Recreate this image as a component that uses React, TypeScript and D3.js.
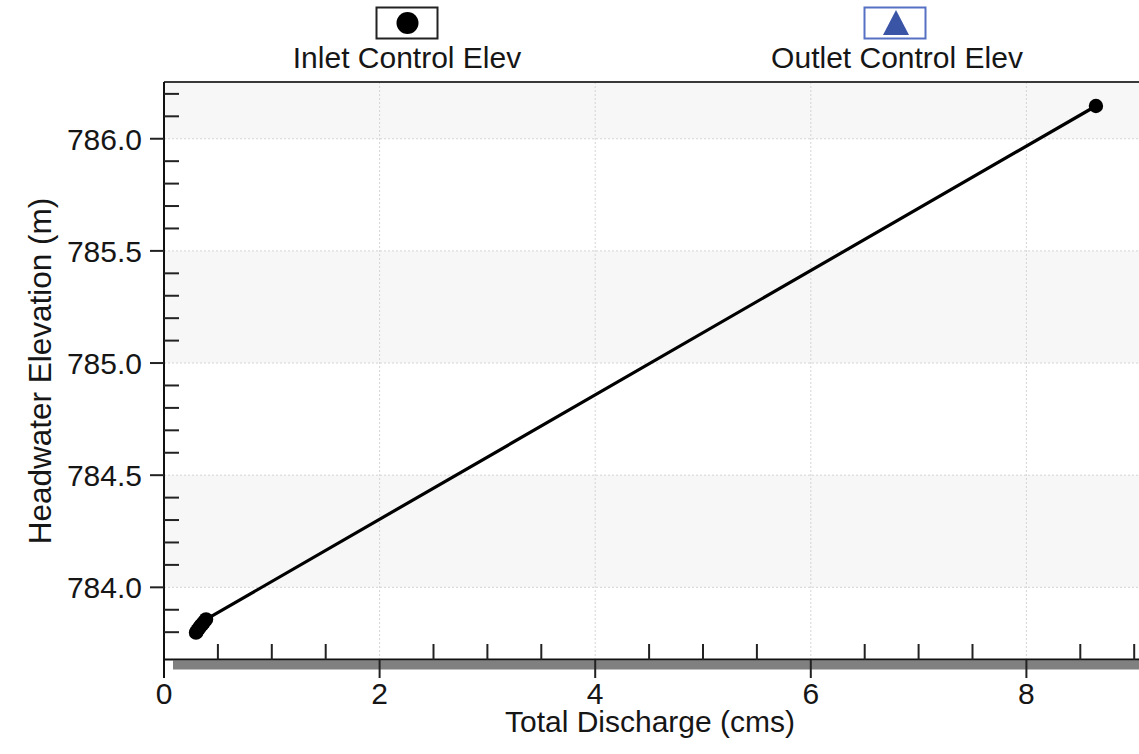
import React from "react";
import * as d3 from "d3";

// Culvert headwater rating data
const discharge = [0.297, 0.31, 0.325, 0.34, 0.355, 0.37, 0.39, 8.645];
const headwaterElev = [783.798, 783.808, 783.818, 783.828, 783.836, 783.845, 783.857, 786.146];

const xMajorTicks = [0, 2, 4, 6, 8];
const yMajorTicks = [784.0, 784.5, 785.0, 785.5, 786.0];

const legendLabels = ["Inlet Control Elev", "Outlet Control Elev"];

const W = 1139;
const H = 754;
const left = 164;
const top = 82;
const bottom = 660;
const right = 1142;
const FONT = "'Liberation Sans', Arial, sans-serif";
const TEXT = "#161616";

export default function App() {
  const x = d3.scaleLinear().domain([0, 9]).range([left, left + 9 * 107.8]);
  const y = d3.scaleLinear().domain([783.676, 786.253]).range([bottom, top]);

  const xMinor = d3.range(0.5, 9.01, 0.5).filter((v) => Math.abs(v / 2 - Math.round(v / 2)) > 1e-6);
  const yMinor = d3
    .range(783.8, 786.25, 0.1)
    .map((v) => +v.toFixed(1))
    .filter((v) => Math.abs(v * 2 - Math.round(v * 2)) > 1e-6);

  // background bands between major elevations
  const bandEdges = [784.0, 784.5, 785.0, 785.5, 786.0, 786.253];
  const bands = [
    [bandEdges[0], bandEdges[1]],
    [bandEdges[2], bandEdges[3]],
    [bandEdges[4], bandEdges[5]],
  ];

  const pts = discharge.map((q, i) => [q, headwaterElev[i]] as [number, number]);
  const line = d3
    .line<[number, number]>()
    .x((d) => x(d[0]))
    .y((d) => y(d[1]));

  return (
    <div style={{ position: "fixed", left: 0, top: 0 }}>
      <svg width={W} height={H} style={{ display: "block", background: "#fff" }}>
        {/* plot background */}
        <rect x={left} y={top} width={right - left} height={bottom - top} fill="#ffffff" />
        {bands.map(([a, b], i) => (
          <rect key={i} x={left} y={y(b)} width={right - left} height={y(a) - y(b)} fill="#f7f7f7" />
        ))}

        {/* dotted grid */}
        {xMajorTicks.slice(1).map((t) => (
          <line key={"gx" + t} x1={x(t)} x2={x(t)} y1={top} y2={bottom} stroke="#d4d4d4" strokeWidth={1} strokeDasharray="2,2" />
        ))}
        {yMajorTicks.map((t) => (
          <line key={"gy" + t} x1={left} x2={right} y1={y(t)} y2={y(t)} stroke="#d4d4d4" strokeWidth={1} strokeDasharray="2,2" />
        ))}

        {/* frame */}
        <line x1={left} x2={right} y1={top} y2={top} stroke="#3a3a3a" strokeWidth={2} />
        <rect x={173} y={660.5} width={right - 173} height={9} fill="#808080" />
        <line x1={left} x2={right} y1={bottom - 0.5} y2={bottom - 0.5} stroke="#111" strokeWidth={2} />
        <line x1={left} x2={left} y1={top} y2={678} stroke="#111" strokeWidth={2} />

        {/* x ticks */}
        {xMajorTicks.slice(1).map((t) => (
          <line key={"xt" + t} x1={x(t)} x2={x(t)} y1={bottom} y2={678} stroke="#222" strokeWidth={2} />
        ))}
        {xMinor.map((t) => (
          <line key={"xm" + t} x1={x(t)} x2={x(t)} y1={bottom} y2={bottom - 16} stroke="#222" strokeWidth={2} />
        ))}
        {xMajorTicks.map((t) => (
          <text key={"xl" + t} x={x(t)} y={704} textAnchor="middle" fontFamily={FONT} fontSize={30} fill={TEXT}>
            {t}
          </text>
        ))}

        {/* y ticks */}
        {yMajorTicks.map((t) => (
          <line key={"yt" + t} x1={150} x2={left} y1={y(t)} y2={y(t)} stroke="#222" strokeWidth={2} />
        ))}
        {yMinor.map((t) => (
          <line key={"ym" + t} x1={left} x2={left + 15} y1={y(t)} y2={y(t)} stroke="#222" strokeWidth={2} />
        ))}
        {yMajorTicks.map((t) => (
          <text key={"yl" + t} x={142} y={y(t)} dy="0.36em" textAnchor="end" fontFamily={FONT} fontSize={30} fill={TEXT}>
            {d3.format(".1f")(t)}
          </text>
        ))}

        {/* axis titles */}
        <text x={650} y={732} textAnchor="middle" fontFamily={FONT} fontSize={30} fill={TEXT}>
          Total Discharge (cms)
        </text>
        <text
          transform={`translate(51,${371}) rotate(-90)`}
          textAnchor="middle"
          fontFamily={FONT}
          fontSize={31.5}
          fill={TEXT}
        >
          Headwater Elevation (m)
        </text>

        {/* series */}
        <path d={line(pts) || ""} fill="none" stroke="#000" strokeWidth={3.2} strokeLinejoin="round" />
        {pts.map((d, i) => (
          <circle key={"p" + i} cx={x(d[0])} cy={y(d[1])} r={7.2} fill="#000" />
        ))}

        {/* legend */}
        <rect x={376.5} y={7.5} width={61} height={31} fill="#fff" stroke="#222" strokeWidth={2} />
        <circle cx={407.5} cy={23} r={11} fill="#000" />
        <text x={407} y={68} textAnchor="middle" fontFamily={FONT} fontSize={30} fill={TEXT}>
          {legendLabels[0]}
        </text>
        <rect x={864.5} y={7.5} width={61} height={31} fill="#fff" stroke="#5670c4" strokeWidth={2} />
        <path d="M896,10 L909,35 L883,35 Z" fill="#3a54a6" />
        <text x={897} y={68} textAnchor="middle" fontFamily={FONT} fontSize={30} fill={TEXT}>
          {legendLabels[1]}
        </text>
      </svg>
    </div>
  );
}
